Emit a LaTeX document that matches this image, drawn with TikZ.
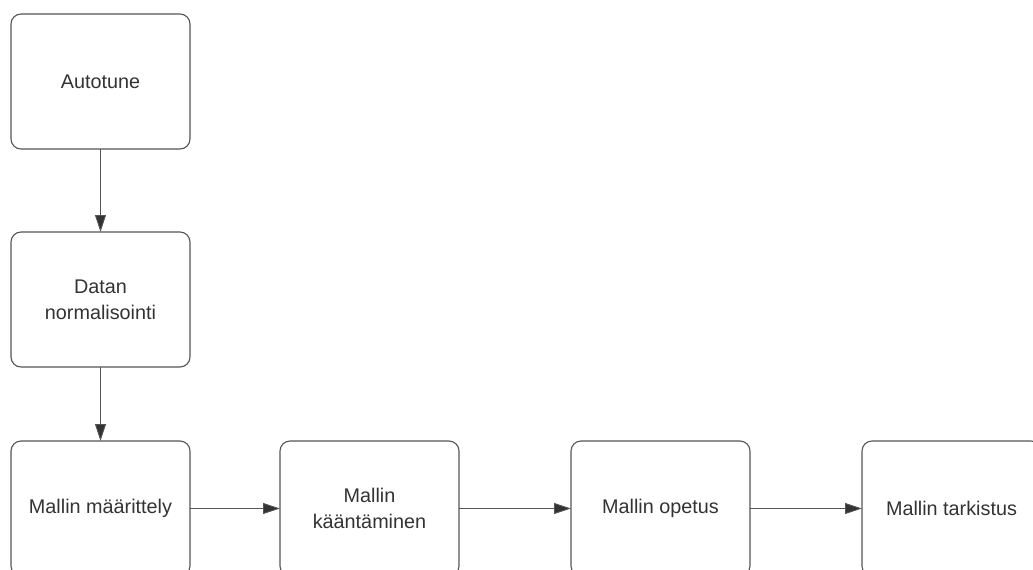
\documentclass[tikz,border=0pt]{standalone}
\usepackage{fontspec}
\setmainfont{Liberation Sans}
\usetikzlibrary{arrows.meta}
\definecolor{txt}{HTML}{333333}
\definecolor{edge}{HTML}{555555}
\begin{document}
\begin{tikzpicture}[x=1pt,y=-1pt,
  stepbox/.style={draw=edge, line width=1.1pt, rounded corners=10pt, fill=white,
    minimum width=179pt, minimum height=135pt, inner sep=0pt, outer sep=0pt,
    align=center, text=txt, font=\fontsize{19.8}{26}\selectfont},
  conn/.style={draw=edge, line width=0.9pt, -{Triangle[length=17pt,width=11pt,fill=txt]}}]
\useasboundingbox (0,0) rectangle (1033,570);
\clip (0,0) rectangle (1033,570);
\node[stepbox] (a) at (100.5,81.5) {Autotune};
\node[stepbox] (b) at (100.5,299.5) {Datan\\normalisointi};
\node[stepbox] (c) at (100.5,508.5) {Mallin määrittely};
\node[stepbox] (d) at (369.5,508.5) {Mallin\\kääntäminen};
\node[stepbox] (e) at (660.5,508.5) {Mallin opetus};
\node[stepbox] (f) at (951.5,508.5) {Mallin tarkistus};
\draw[conn] (a) -- (b);
\draw[conn] (b) -- (c);
\draw[conn] (c) -- (d);
\draw[conn] (d) -- (e);
\draw[conn] (e) -- (f);
\end{tikzpicture}
\end{document}
